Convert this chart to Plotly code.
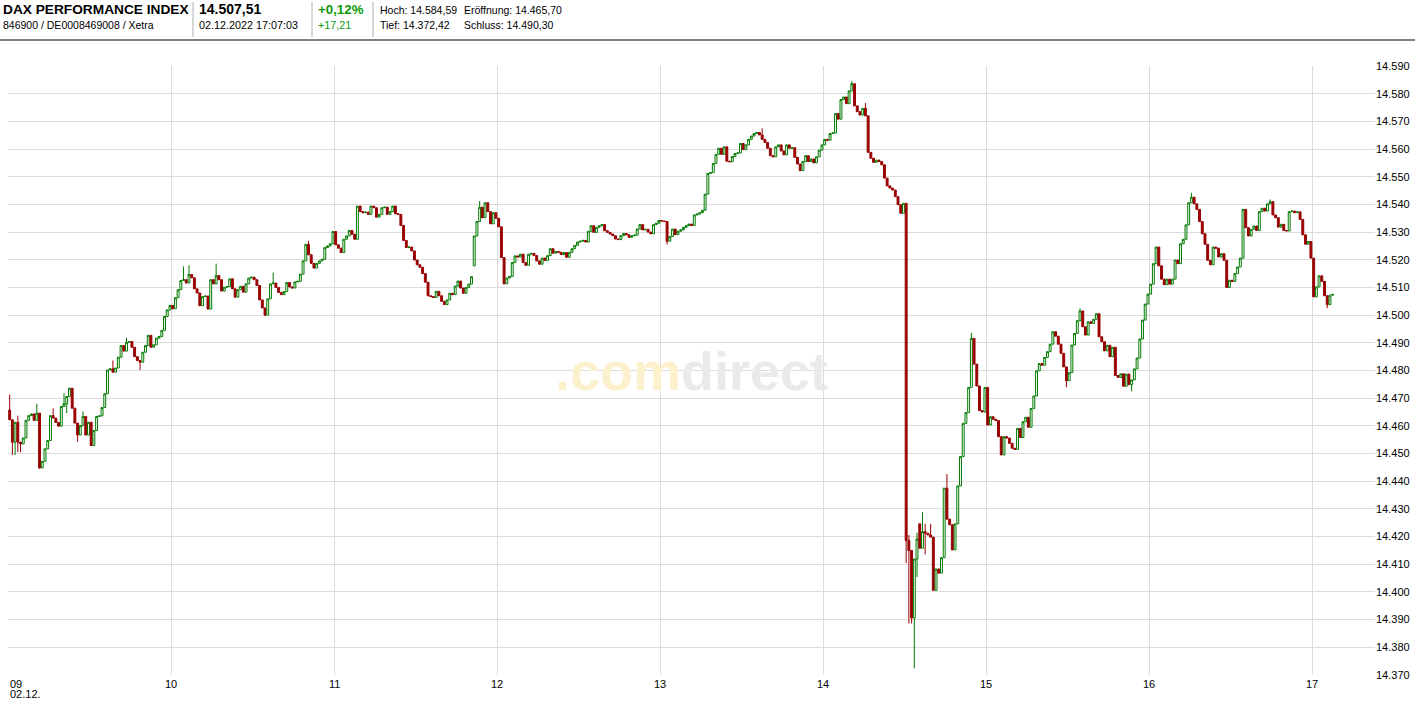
import plotly.graph_objects as go
from datetime import datetime, timedelta

# ---------------- data (1-minute candles, 02.12.2022, from 09:00) ----------------
first_open = 14465.7

close_0900 = [14462.2, 14454.1, 14461.3, 14454.1, 14453.5, 14455.6, 14462.0, 14463.7, 14464.3, 14462.0,
              14464.6, 14444.8, 14447.2, 14451.7, 14454.7, 14463.7, 14462.8, 14461.2, 14459.9, 14467.0,
              14468.0, 14470.6, 14473.6, 14466.4, 14461.0, 14456.7, 14460.1, 14463.4, 14456.7, 14461.3,
              14452.9, 14458.3, 14463.4, 14463.6, 14466.6, 14471.6, 14480.2, 14480.6, 14479.4, 14480.9,
              14484.8, 14489.0, 14487.0, 14490.2, 14490.5, 14488.4, 14485.0, 14483.6, 14483.0, 14486.6,
              14489.0, 14492.7, 14488.4, 14489.3, 14491.7, 14492.3, 14494.5, 14499.5, 14501.9, 14503.5]
close_1000 = [14502.3, 14506.3, 14509.2, 14512.5, 14512.8, 14511.6, 14514.7, 14513.5, 14509.5, 14508.0,
              14503.4, 14506.7, 14506.9, 14502.2, 14512.8, 14511.3, 14514.3, 14512.8, 14508.7, 14510.1,
              14510.3, 14513.1, 14509.5, 14506.5, 14509.2, 14510.4, 14508.3, 14511.3, 14513.4, 14513.7,
              14512.8, 14510.7, 14505.5, 14502.6, 14500.0, 14505.9, 14511.3, 14511.6, 14510.0, 14508.2,
              14507.4, 14508.5, 14511.8, 14510.2, 14509.8, 14512.0, 14512.2, 14514.8, 14519.6, 14525.6,
              14521.8, 14518.7, 14517.0, 14518.7, 14519.6, 14520.2, 14524.4, 14525.0, 14525.8, 14530.2]
close_1100 = [14525.4, 14524.2, 14522.6, 14527.4, 14528.6, 14530.6, 14529.2, 14527.4, 14539.4, 14537.4,
              14537.0, 14537.2, 14536.4, 14539.4, 14538.8, 14535.4, 14536.4, 14538.8, 14539.0, 14536.4,
              14537.4, 14539.4, 14536.6, 14536.4, 14532.4, 14527.0, 14524.4, 14524.6, 14523.2, 14519.9,
              14518.2, 14517.3, 14515.0, 14511.9, 14507.0, 14506.7, 14506.4, 14508.6, 14507.0, 14505.0,
              14503.8, 14505.5, 14507.9, 14507.4, 14510.5, 14512.3, 14509.8, 14507.9, 14510.0, 14511.2,
              14513.9, 14528.6, 14533.8, 14539.0, 14535.2, 14540.6, 14537.4, 14533.0, 14537.0, 14535.0]
close_1200 = [14531.9, 14520.8, 14511.3, 14513.4, 14514.0, 14519.0, 14521.4, 14521.0, 14522.0, 14519.0,
              14518.0, 14522.0, 14522.3, 14521.5, 14519.6, 14518.4, 14520.6, 14519.8, 14521.5, 14524.0,
              14522.4, 14523.0, 14522.7, 14521.9, 14522.6, 14520.9, 14522.7, 14524.0, 14525.2, 14526.4,
              14526.7, 14527.0, 14526.4, 14530.3, 14532.3, 14529.9, 14531.7, 14532.3, 14532.7, 14530.5,
              14529.9, 14529.3, 14528.7, 14527.5, 14527.3, 14528.7, 14529.5, 14529.0, 14528.1, 14528.7,
              14528.9, 14531.1, 14532.7, 14530.8, 14531.0, 14530.0, 14529.4, 14532.7, 14533.2, 14534.2]
close_1300 = [14534.0, 14533.8, 14526.7, 14528.4, 14531.1, 14529.1, 14530.3, 14530.8, 14531.7, 14532.3,
              14532.9, 14532.4, 14536.2, 14536.5, 14537.0, 14537.9, 14543.7, 14551.2, 14551.5, 14554.8,
              14558.1, 14560.3, 14558.1, 14560.8, 14555.6, 14555.4, 14557.3, 14558.4, 14558.6, 14562.0,
              14559.8, 14561.5, 14563.5, 14564.7, 14565.6, 14566.0, 14565.1, 14563.5, 14562.4, 14560.3,
              14557.6, 14557.2, 14560.8, 14561.5, 14559.3, 14557.9, 14561.5, 14560.3, 14560.5, 14557.0,
              14554.6, 14552.2, 14555.5, 14557.6, 14555.5, 14556.4, 14555.0, 14557.2, 14559.6, 14561.5]
close_1400 = [14563.5, 14563.2, 14565.6, 14565.8, 14572.8, 14570.8, 14577.9, 14578.8, 14576.4, 14581.0,
              14583.6, 14575.6, 14573.5, 14572.3, 14574.7, 14572.0, 14558.8, 14556.7, 14555.2, 14556.0,
              14555.5, 14554.3, 14549.5, 14546.7, 14545.9, 14545.2, 14542.8, 14539.9, 14536.8, 14540.4,
              14418.6, 14415.0, 14390.6, 14411.9, 14419.1, 14415.8, 14421.8, 14421.2, 14420.6, 14419.8,
              14400.6, 14408.3, 14406.8, 14412.4, 14437.5, 14426.3, 14424.3, 14415.2, 14424.6, 14438.3,
              14448.9, 14460.9, 14464.8, 14473.9, 14491.6, 14482.3, 14474.4, 14465.5, 14465.0, 14473.9]
close_1500 = [14460.3, 14463.3, 14462.4, 14461.9, 14456.1, 14449.5, 14456.1, 14455.6, 14453.7, 14451.9,
              14451.5, 14459.1, 14455.8, 14461.5, 14463.1, 14459.5, 14466.3, 14470.8, 14479.9, 14482.5,
              14481.9, 14484.7, 14486.8, 14489.5, 14494.0, 14492.4, 14489.5, 14486.2, 14481.3, 14476.3,
              14479.2, 14489.2, 14493.4, 14498.0, 14501.5, 14495.8, 14492.8, 14497.6, 14497.0, 14498.5,
              14500.5, 14492.2, 14490.4, 14487.1, 14489.1, 14485.0, 14488.4, 14478.2, 14477.5, 14478.8,
              14474.3, 14478.7, 14474.9, 14476.6, 14480.6, 14484.5, 14491.4, 14498.2, 14504.0, 14507.6]
close_1600 = [14511.2, 14518.6, 14524.6, 14517.8, 14513.0, 14511.0, 14513.0, 14511.2, 14513.0, 14519.9,
              14518.6, 14525.8, 14527.4, 14532.6, 14540.6, 14542.6, 14540.2, 14538.2, 14533.8, 14529.4,
              14525.6, 14519.8, 14518.2, 14524.6, 14524.2, 14521.0, 14522.2, 14519.8, 14510.0, 14512.6,
              14512.2, 14515.0, 14517.4, 14520.6, 14538.2, 14531.6, 14528.6, 14531.0, 14532.2, 14530.6,
              14537.4, 14538.6, 14537.6, 14540.2, 14541.0, 14536.2, 14535.2, 14531.8, 14532.8, 14530.6,
              14530.4, 14537.4, 14537.6, 14537.0, 14537.3, 14534.6, 14529.0, 14525.6, 14526.6, 14520.6]
close_1700 = [14506.6, 14510.2, 14514.2, 14512.2, 14507.0, 14503.8, 14507.2, 14507.5]

# gaps where a candle did not open at the previous close (minute index -> open)
open_gaps = {171: 14517.8, 335: 14424.6}
# wick extremes (minute index -> value)
wick_high = {0: 14471.3, 3: 14463.7, 10: 14468.0, 16: 14466.3, 20: 14471.8, 27: 14465.2, 38: 14483.6,
             43: 14491.8, 60: 14503.2, 64: 14517.6, 66: 14518.0, 76: 14518.6, 97: 14515.4, 110: 14526.8,
             173: 14541.2, 277: 14567.5, 310: 14584.59, 315: 14576.6, 331: 14420.6, 334: 14421.4,
             336: 14428.8, 337: 14424.6, 339: 14424.6, 345: 14442.6, 354: 14493.6, 394: 14502.5,
             435: 14544.2, 464: 14541.8}
wick_low = {1: 14449.5, 2: 14449.5, 3: 14450.5, 4: 14450.5, 11: 14444.5, 21: 14464.6, 25: 14454.3,
            48: 14480.2, 242: 14525.5, 330: 14410.4, 331: 14388.6, 332: 14388.6, 333: 14372.42,
            334: 14405.4, 337: 14413.6, 389: 14474.0, 413: 14472.5, 485: 14502.5}

hours = ["09", "10", "11", "12", "13", "14", "15", "16", "17"]
y_ticks = list(range(14370, 14600, 10))
y_labels = ["14.%03d" % (v - 14000) for v in y_ticks]

# ---------------- assemble OHLC ----------------
closes = close_0900 + close_1000 + close_1100 + close_1200 + close_1300 + close_1400 + close_1500 + close_1600 + close_1700
opens = [first_open] + closes[:-1]
for k, v in open_gaps.items():
    opens[k] = v
highs = [max(o, c) for o, c in zip(opens, closes)]
lows = [min(o, c) for o, c in zip(opens, closes)]
for k, v in wick_high.items():
    highs[k] = max(highs[k], v)
for k, v in wick_low.items():
    lows[k] = min(lows[k], v)

t0 = datetime(2022, 12, 2, 9, 0, 0)
times = [t0 + timedelta(minutes=i, seconds=30) for i in range(len(closes))]

fig = go.Figure()
fig.add_trace(go.Candlestick(
    x=times, open=opens, high=highs, low=lows, close=closes,
    increasing=dict(line=dict(color="#007a00", width=1), fillcolor="#ffffff"),
    decreasing=dict(line=dict(color="#990000", width=1), fillcolor="#990000"),
    whiskerwidth=0, showlegend=False, hoverinfo="skip",
))

GRID = "#dcdcdc"
hour_times = [datetime(2022, 12, 2, int(h), 0, 0) for h in hours]
fig.update_xaxes(
    type="date", range=[datetime(2022, 12, 2, 8, 59, 53), datetime(2022, 12, 2, 17, 23, 5)],
    tickvals=hour_times, showticklabels=False, showgrid=True, gridcolor=GRID, gridwidth=1,
    zeroline=False, showline=False, ticks="", rangeslider=dict(visible=False), fixedrange=True,
)
fig.update_yaxes(
    range=[14370, 14590], side="right", tickvals=y_ticks, ticktext=y_labels,
    showgrid=True, gridcolor=GRID, gridwidth=1, zeroline=False, showline=False, ticks="",
    tickfont=dict(family="Liberation Sans, Arial, sans-serif", size=11, color="#000000"),
    fixedrange=True,
)

W, H = 1415, 701
L, R, T, B = 8, 40, 66, 26
PW, PH = W - L - R, H - T - B

def px(x):
    return (x - L) / PW

def py(y):
    return (H - B - y) / PH

FONT = "Liberation Sans, Arial, sans-serif"
ann = []
# hour labels under the axis (first one left-aligned at the edge, others centred)
for i, (h, ht) in enumerate(zip(hours, hour_times)):
    ann.append(dict(x=ht, xref="x", y=py(684), yref="paper", text=h, showarrow=False,
                    xanchor="left" if i == 0 else "center", yanchor="middle", xshift=0,
                    font=dict(family=FONT, size=11, color="#000000")))
ann.append(dict(x=hour_times[0], xref="x", y=py(694), yref="paper", text="02.12.", showarrow=False,
                xanchor="left", yanchor="middle", xshift=0, font=dict(family=FONT, size=11, color="#000000")))

# header
def head(x, y, text, size, color="#000000", bold=False):
    t = "<b>%s</b>" % text if bold else text
    ann.append(dict(x=px(x), y=py(y), xref="paper", yref="paper", text=t, showarrow=False,
                    xanchor="left", yanchor="middle", font=dict(family=FONT, size=size, color=color)))

head(1, 9, "DAX PERFORMANCE INDEX", 13.7, bold=True)
head(1, 25, "846900 / DE0008469008 / Xetra", 10.5)
head(197, 9, "14.507,51", 14, bold=True)
head(197, 25, "02.12.2022 17:07:03", 10.8)
head(316, 9, "+0,12%", 13.3, color="#0a9a0a", bold=True)
head(316, 25, "+17,21", 10.8, color="#0a9a0a")
head(378, 10, "Hoch: 14.584,59", 10.5)
head(462, 10, "Eröffnung: 14.465,70", 10.5)
head(378, 25, "Tief: 14.372,42", 10.5)
head(462, 25, "Schluss: 14.490,30", 10.5)

# watermark
ann.append(dict(x=px(691), y=py(371), xref="paper", yref="paper", showarrow=False,
                xanchor="center", yanchor="middle",
                text="<b><span style='color:#fcf1cc'>.com</span><span style='color:#eaeaea'>direct</span></b>",
                font=dict(family=FONT, size=54)))

shapes = [
    dict(type="line", xref="paper", yref="paper", x0=px(0), x1=px(W), y0=py(40), y1=py(40),
         line=dict(color="#808080", width=2)),
]
for sx in (193, 312, 373):
    shapes.append(dict(type="line", xref="paper", yref="paper", x0=px(sx), x1=px(sx), y0=py(2), y1=py(37),
                       line=dict(color="#b0b0b0", width=1)))

fig.update_layout(
    width=W, height=H, margin=dict(l=L, r=R, t=T, b=B, autoexpand=False),
    paper_bgcolor="#ffffff", plot_bgcolor="#ffffff",
    annotations=ann, shapes=shapes, showlegend=False, boxgap=0.0,
    font=dict(family=FONT, size=11, color="#000000"),
)

fig.write_html("out.html", config={"displayModeBar": False, "staticPlot": True},
               post_script="document.body.style.margin='0';document.body.style.padding='0';"
                           "document.body.style.overflow='hidden';")
